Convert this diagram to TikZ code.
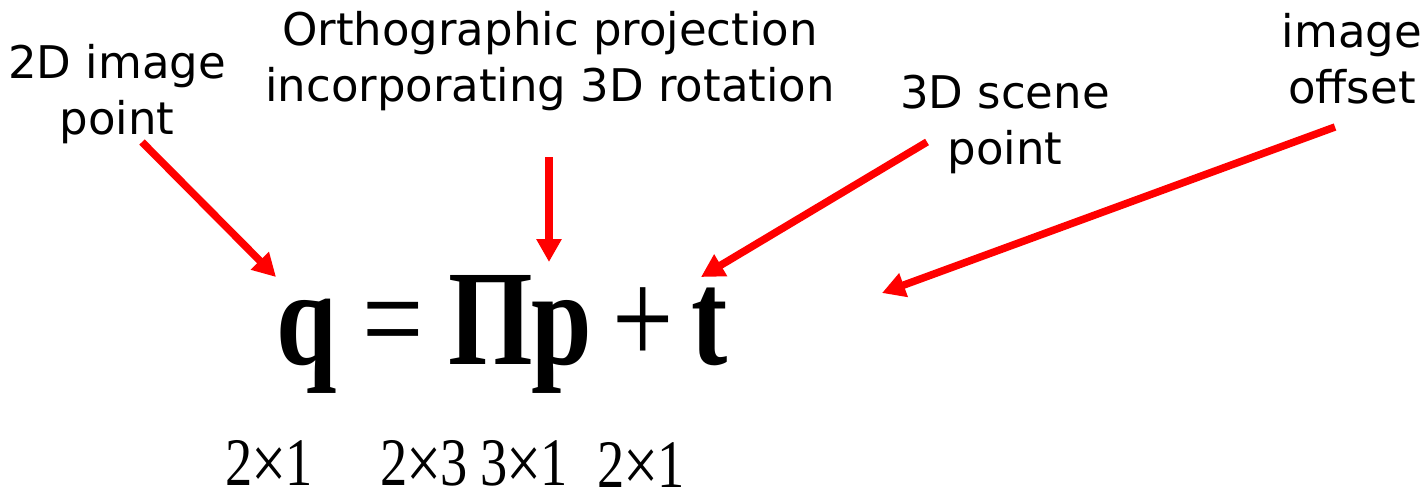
\documentclass[tikz,border=0pt]{standalone}
\usepackage{fontspec}
\setmainfont{Liberation Serif}
\newfontfamily\eqfont[FakeStretch=0.8]{Liberation Serif}
\newfontfamily\notefont{DejaVu Sans}
\usetikzlibrary{arrows.meta,positioning}
\newcommand{\bytimes}{\kern-1.5pt{\fontsize{78}{78}\selectfont\raisebox{-4pt}[0pt][0pt]{×}}\kern-1.5pt}

\begin{document}
\begin{tikzpicture}[x=1pt, y=-1pt,
  note/.style={font=\notefont\fontsize{45}{56}\selectfont, align=center, inner sep=0pt, anchor=north},
  sym/.style={font=\eqfont\fontsize{136}{136}\selectfont\bfseries, inner sep=0pt, anchor=base},
  symop/.style={font=\eqfont\fontsize{136}{136}\selectfont, inner sep=0pt, anchor=base},
  dims/.style={font=\eqfont\fontsize{68}{68}\selectfont, inner sep=0pt, anchor=base},
  pointer/.style={-{Triangle[length=23pt,width=24pt]}, line width=7.5pt, red}]
  \useasboundingbox (0,0) rectangle (1424,491);

  % the equation
  \node[sym]   (q)    at (307,364) {q};
  \node[symop] (eq)   at (393,364) {=};
  \node[sym]   (Pi)   at (491,364) {Π};
  \node[sym]   (p)    at (562,364) {p};
  \node[symop] (plus) at (643,364) {+};
  \node[sym]   (t)    at (710,364) {t};

  % sizes under it
  \node[dims] (dq)  at (269,485) {2\bytimes1};
  \node[dims] (dPi) at (424,485) {2\bytimes3};
  \node[dims] (dp)  at (524,485) {3\bytimes1};
  \node[dims] (dt)  at (641,487) {2\bytimes1};

  % labels
  \node[note] (ptlabel)     at (117,44)  {2D image\\point};
  \node[note] (projlabel)   at (550,11)  {Orthographic projection\\incorporating 3D rotation};
  \node[note] (scenelabel)  at (1005,75) {3D scene\\point};
  \node[note] (offsetlabel) at (1352,13) {image\\offset};

  % arrows
  \draw[pointer] ([xshift=25pt, yshift=-98pt]ptlabel.north) -- ([xshift=-31pt, yshift=87pt]q.base);
  \draw[pointer] ([xshift=-1pt, yshift=-146pt]projlabel.north) -- ([xshift=58pt, yshift=102pt]Pi.base);
  \draw[pointer] ([xshift=-78pt, yshift=-67pt]scenelabel.north) -- ([xshift=139pt, yshift=87pt]p.base);
  \draw[pointer] ([xshift=-17pt, yshift=-114pt]offsetlabel.north) -- ([xshift=172pt, yshift=71pt]t.base);
\end{tikzpicture}
\end{document}
